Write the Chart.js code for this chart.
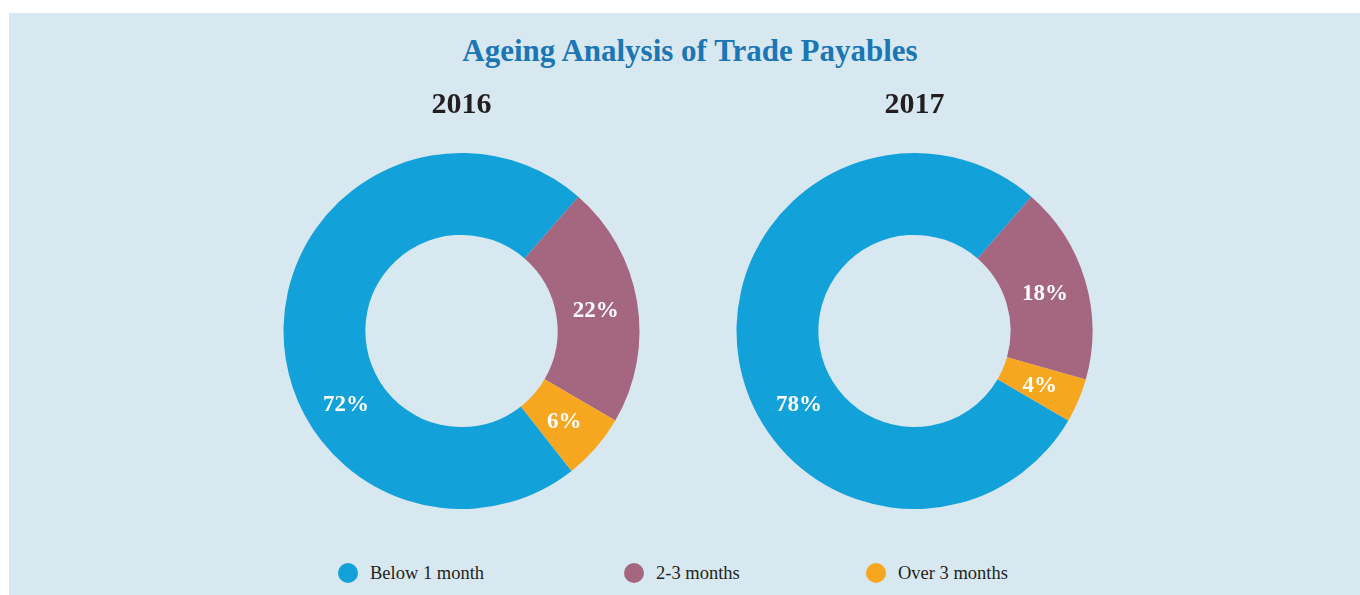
<!DOCTYPE html>
<html>
<head>
<meta charset="utf-8">
<script src="https://cdn.jsdelivr.net/npm/chart.js@4.4.1/dist/chart.umd.min.js"></script>
<style>
    body {
        margin: 0;
        width: 1360px;
        height: 595px;
        background: #ffffff;
        overflow: hidden;
        font-family: "Liberation Serif", serif;
    }
    .panel {
        position: absolute;
        left: 9px;
        top: 13px;
        width: 1351px;
        height: 582px;
        background: #d8e8f1;
    }
    .main-title {
        position: absolute;
        left: 0;
        width: 1380px;
        top: 35px;
        margin: 0;
        text-align: center;
        font-size: 31px;
        line-height: 31px;
        font-weight: bold;
        color: #1b76b5;
    }
    .chart-box {
        position: absolute;
        top: 80px;
        width: 453px;
        height: 429px;
    }
    .legend-item {
        position: absolute;
        top: 563px;
        height: 20px;
        display: flex;
        align-items: center;
        font-size: 18.5px;
        color: #231f20;
        white-space: nowrap;
    }
    .legend-item .dot {
        width: 20px;
        height: 20px;
        border-radius: 50%;
        margin-right: 12px;
    }
</style>
</head>
<body>
<div class="panel"></div>
<h1 class="main-title">Ageing Analysis of Trade Payables</h1>
<div class="chart-box" style="left:235px"><canvas id="chart2016"></canvas></div>
<div class="chart-box" style="left:688px"><canvas id="chart2017"></canvas></div>
<div id="legend"></div>

<script>
// Data
const categories = ['Below 1 month', '2-3 months', 'Over 3 months'];
const colors = ['#13a1da', '#a5667f', '#f7a61f'];
const years = ['2016', '2017'];
const values2016 = [72, 22, 6];
const values2017 = [78, 18, 4];

// where the 2-3 months slice starts (degrees clockwise from 12 o'clock)
const secondSliceStart = 41;
// the big slice has its label down on the left, the others sit mid-slice
const labelAngles = [238, null, null];

const legendX = [338, 624, 866];

// Percent labels inside the slices
const pctLabels = {
    id: 'pctLabels',
    afterDatasetsDraw(chart) {
        const ctx = chart.ctx;
        const meta = chart.getDatasetMeta(0);
        const data = chart.data.datasets[0].data;
        ctx.save();
        ctx.font = 'bold 23px "Liberation Serif"';
        ctx.fillStyle = '#ffffff';
        ctx.textAlign = 'center';
        ctx.textBaseline = 'middle';
        meta.data.forEach((arc, i) => {
            const p = arc.getProps(['x', 'y', 'startAngle', 'endAngle', 'innerRadius', 'outerRadius']);
            let a = (p.startAngle + p.endAngle) / 2;
            if (labelAngles[i] !== null) {
                a = (labelAngles[i] - 90) * Math.PI / 180;
            }
            const r = (p.innerRadius + p.outerRadius) / 2 - 1;
            ctx.fillText(data[i] + '%', p.x + Math.cos(a) * r, p.y + Math.sin(a) * r + 2);
        });
        ctx.restore();
    }
};

function makeDoughnut(id, year, values) {
    const total = values.reduce((s, v) => s + v, 0);
    const rest = total - values[0];
    const rotation = secondSliceStart + 360 * rest / total;

    return new Chart(document.getElementById(id), {
        type: 'doughnut',
        data: {
            labels: categories,
            datasets: [{
                data: values,
                backgroundColor: colors,
                borderWidth: 0,
                hoverOffset: 0
            }]
        },
        options: {
            responsive: true,
            maintainAspectRatio: false,
            animation: false,
            cutout: '54%',
            rotation: rotation,
            layout: { padding: 0 },
            plugins: {
                legend: { display: false },
                tooltip: { enabled: false },
                title: {
                    display: true,
                    text: year,
                    color: '#231f20',
                    font: { family: '"Liberation Serif"', size: 30, weight: 'bold', lineHeight: 1.2 },
                    padding: { top: 7, bottom: 30 }
                }
            }
        },
        plugins: [pctLabels]
    });
}

makeDoughnut('chart2016', years[0], values2016);
makeDoughnut('chart2017', years[1], values2017);

// Legend
const legend = document.getElementById('legend');
categories.forEach((name, i) => {
    const item = document.createElement('div');
    item.className = 'legend-item';
    item.style.left = legendX[i] + 'px';
    item.innerHTML = `<span class="dot" style="background:${colors[i]}"></span><span>${name}</span>`;
    legend.appendChild(item);
});
</script>
</body>
</html>
